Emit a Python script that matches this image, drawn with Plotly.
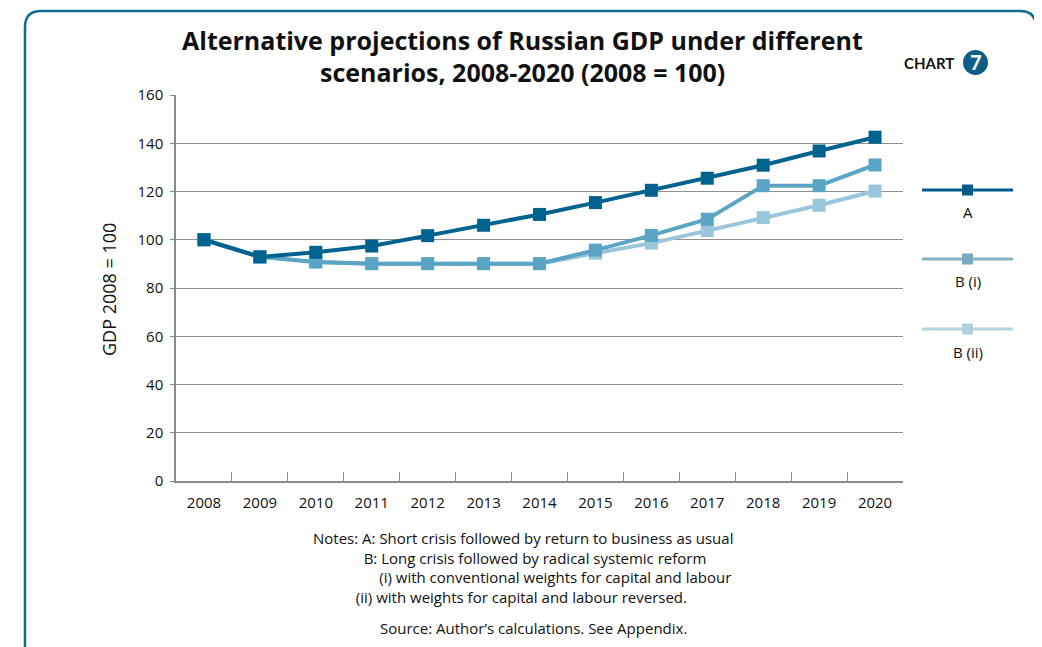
import plotly.graph_objects as go

years = ["2008", "2009", "2010", "2011", "2012", "2013", "2014",
         "2015", "2016", "2017", "2018", "2019", "2020"]
scenario_a = [100, 92.9, 94.8, 97.4, 101.7, 106.0, 110.5, 115.4, 120.5, 125.5, 130.9, 136.8, 142.5]
scenario_b_i = [100, 92.9, 90.8, 90.1, 90.1, 90.1, 90.1, 95.7, 101.8, 108.5, 122.4, 122.4, 131.0]
scenario_b_ii = [100, 92.9, 90.8, 90.1, 90.1, 90.1, 90.1, 94.4, 98.6, 103.8, 109.2, 114.3, 120.2]
series_names = ["A", "B (i)", "B (ii)"]
y_ticks = [0, 20, 40, 60, 80, 100, 120, 140, 160]

col_a = "#00638f"
col_bi = "#5aa4c6"
col_bii = "#9ac6dd"
leg_line = ["#005b85", "#86b3c8", "#b8d4e0"]
leg_mark = ["#005b85", "#79a9bf", "#b3cfdb"]

# page offset (browser body margin)
OFF = 8
W, H = 1042 - OFF, 647 - OFF
# plot area in screenshot pixel coordinates
L, R, T, B = 176, 903, 95, 481

def px(x):
    return (x - L) / (R - L)

def py(y):
    return (B - y) / (B - T)

fig = go.Figure()
for vals, col, name in [(scenario_b_ii, col_bii, series_names[2]),
                        (scenario_b_i, col_bi, series_names[1]),
                        (scenario_a, col_a, series_names[0])]:
    fig.add_trace(go.Scatter(
        x=years, y=vals, mode="lines+markers", name=name,
        line=dict(color=col, width=4),
        marker=dict(symbol="square", size=13, color=col),
        showlegend=False, cliponaxis=False))

font = "Open Sans, sans-serif"
shapes = []
annotations = []

# Card border
shapes.append(dict(
    type="path", xref="paper", yref="paper",
    path=(f"M {px(25)},{py(665)} L {px(25)},{py(27)} Q {px(25)},{py(11)} {px(41)},{py(11)} "
          f"L {px(1020)},{py(11)} Q {px(1036)},{py(11)} {px(1036)},{py(27)} L {px(1036)},{py(665)}"),
    line=dict(color="#136b8f", width=2.5), layer="below"))

# Legend (custom, label below symbol)
leg_y = [190, 259, 329]
lab_y = [212, 281, 352]
for i in range(3):
    shapes.append(dict(type="line", xref="paper", yref="paper",
                       x0=px(922), x1=px(1013), y0=py(leg_y[i]), y1=py(leg_y[i]),
                       line=dict(color=leg_line[i], width=3)))
    shapes.append(dict(type="rect", xref="paper", yref="paper",
                       x0=px(962), x1=px(973), y0=py(leg_y[i] - 5.5), y1=py(leg_y[i] + 5.5),
                       line=dict(width=0), fillcolor=leg_mark[i]))
    annotations.append(dict(text=series_names[i], xref="paper", yref="paper",
                            x=px(968), y=py(lab_y[i]), showarrow=False,
                            xanchor="center", yanchor="middle",
                            font=dict(family=font, size=15, color="#111")))

# CHART badge
shapes.append(dict(type="circle", xref="paper", yref="paper",
                   x0=px(963), x1=px(988), y0=py(50), y1=py(75),
                   line=dict(width=0), fillcolor="#0d5e86"))
annotations.append(dict(text="<b>CHART</b>", xref="paper", yref="paper",
                        x=px(956), y=py(63), showarrow=False, xanchor="right", yanchor="middle",
                        font=dict(family="Lato, sans-serif", size=15, color="#111")))
annotations.append(dict(text="<b>7</b>", xref="paper", yref="paper",
                        x=px(975.5), y=py(62.5), showarrow=False, xanchor="center", yanchor="middle",
                        font=dict(family="Lato, sans-serif", size=20, color="white")))

# Title (two lines)
for txt, yy in [("Alternative projections of Russian GDP under different", 40),
                ("scenarios, 2008-2020 (2008 = 100)", 72)]:
    annotations.append(dict(text=f"<b>{txt}</b>",
                            xref="paper", yref="paper", x=px(522), y=py(yy), showarrow=False,
                            xanchor="center", yanchor="middle", align="center",
                            font=dict(family=font, size=25, color="#111")))

# Y title
annotations.append(dict(text="GDP 2008 = 100", xref="paper", yref="paper",
                        x=px(109), y=py(290), showarrow=False, textangle=-90,
                        xanchor="center", yanchor="middle",
                        font=dict(family=font, size=18, color="#111")))

# Notes (one multi-line block, indents with non-breaking spaces)
nb = "\u00a0"
notes_lines = [
    "Notes: A: Short crisis followed by return to business as usual",
    nb * 13 + "B: Long crisis followed by radical systemic reform",
    nb * 17 + "(i) with conventional weights for capital and labour",
    nb * 11 + "(ii) with weights for capital and labour reversed.",
]
annotations.append(dict(text="<br>".join(notes_lines), xref="paper", yref="paper",
                        x=px(311), y=py(526), showarrow=False, xanchor="left", yanchor="top",
                        align="left", font=dict(family=font, size=15, color="#111")))
annotations.append(dict(text="Source: Author\u2019s calculations. See Appendix.",
                        xref="paper", yref="paper", x=px(533), y=py(628), showarrow=False,
                        xanchor="center", yanchor="middle",
                        font=dict(family=font, size=15, color="#111")))

fig.update_layout(
    width=W, height=H,
    margin=dict(l=L - OFF, r=W - (R - OFF), t=T - OFF, b=H - (B - OFF), pad=0),
    paper_bgcolor="white", plot_bgcolor="white",
    showlegend=False,
    shapes=shapes, annotations=annotations,
    xaxis=dict(type="category", categoryorder="array", categoryarray=years,
               showgrid=False, showline=True, linecolor="#8a8a8a", linewidth=1.5,
               ticks="inside", ticklen=9, tickcolor="#8a8a8a", tickwidth=1.2,
               tickson="boundaries", ticklabelstandoff=7,
               tickfont=dict(family=font, size=15, color="#111"),
               range=[-0.5, 12.5], zeroline=False, fixedrange=True),
    yaxis=dict(range=[0, 160], tickvals=y_ticks, showgrid=True,
               gridcolor="#8f8f8f", gridwidth=1.3,
               showline=True, linecolor="#8a8a8a", linewidth=1.5,
               ticks="outside", ticklen=4, tickcolor="#8a8a8a",
               ticklabelstandoff=4,
               tickfont=dict(family=font, size=15, color="#111"),
               zeroline=False, fixedrange=True),
)

fig.write_html("out.html")
